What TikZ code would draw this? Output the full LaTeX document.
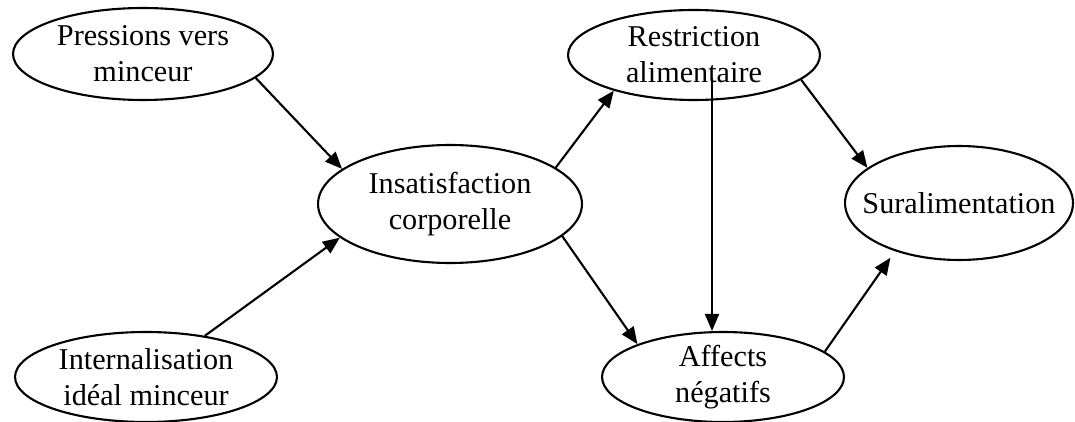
\documentclass[tikz,border=0pt]{standalone}
\usepackage{fontspec}
\setmainfont{Liberation Serif}
\usetikzlibrary{shapes.geometric,arrows.meta}

\begin{document}
\begin{tikzpicture}[x=0.02cm,y=-0.02cm,line width=1.2pt,>={Triangle[length=0.34cm,width=0.28cm]},
                bulle/.style={ellipse,draw,align=center,inner sep=-0.15cm,font=\fontsize{17.2}{20.5}\selectfont}]
                \useasboundingbox (0,0) rectangle (1075,422);
                \node [bulle,minimum width=5.2cm,minimum height=1.84cm] (press) at (143,54) {Pressions vers\\minceur};
                \node [bulle,minimum width=5.24cm,minimum height=1.8cm] (intern) at (146,377) {Internalisation\\idéal minceur};
                \node [bulle,minimum width=5.28cm,minimum height=2.36cm] (insat) at (450,204) {Insatisfaction\\corporelle};
                \node [bulle,minimum width=5.04cm,minimum height=1.8cm] (restr) at (694,55) {Restriction\\alimentaire};
                \node [bulle,minimum width=4.84cm,minimum height=1.8cm] (affect) at (723,377) {Affects\\négatifs};
                \node [bulle,inner xsep=-0.4cm,minimum width=4.56cm,minimum height=2.28cm] (surali) at (959,203) {Suralimentation};
                \coordinate (rs) at (712,78);
                \draw [->] (press.-12) -- (insat.162);
                \draw [->] (intern.35) -- (insat.197);
                \draw [->] (insat.19) -- (restr.204);
                \draw [->] (insat.-16) -- (affect.159);
                \draw [->] (rs) -- (rs |- affect.north);
                \draw [->] (restr.-13) -- (surali.159);
                \draw [->,shorten >=0.16cm] (affect.14) -- (surali.217);
            \end{tikzpicture}
\end{document}
